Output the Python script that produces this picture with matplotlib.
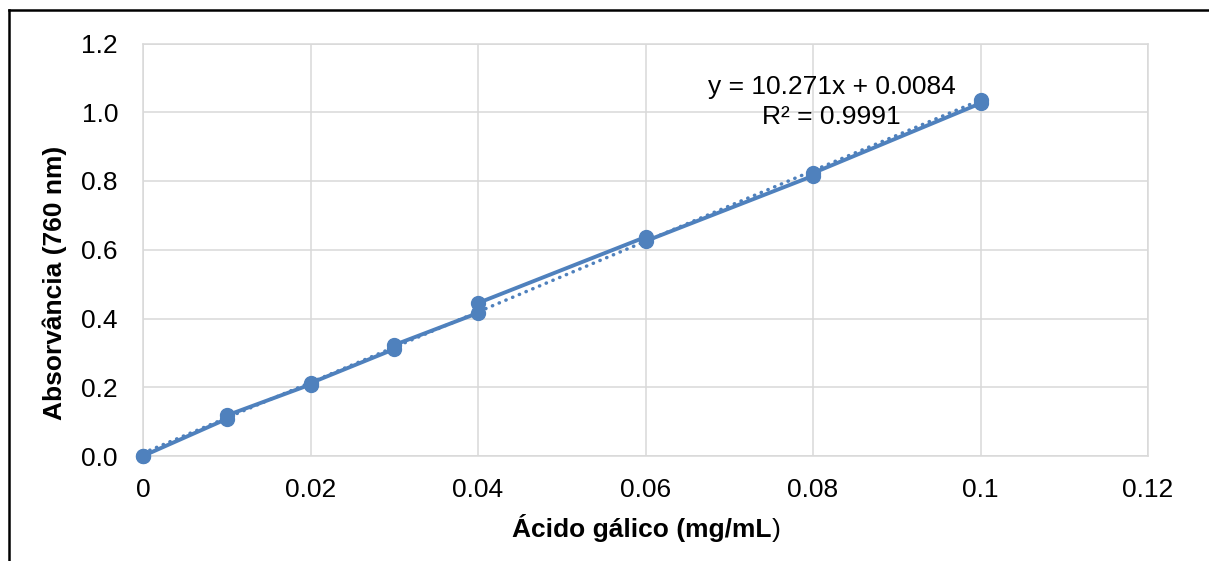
import numpy as np
import matplotlib
matplotlib.use('Agg')
import matplotlib.pyplot as plt
from matplotlib.lines import Line2D

plt.rcParams['font.family'] = ['Liberation Sans', 'DejaVu Sans']

# ── Data (duplicate readings per concentration) ──────────────────────────────
conc = [0.0, 0.0, 0.01, 0.01, 0.02, 0.02, 0.03, 0.03,
        0.04, 0.04, 0.06, 0.06, 0.08, 0.08, 0.1, 0.1]
absorb = [0.0, 0.0, 0.108, 0.118, 0.208, 0.212, 0.311, 0.323,
          0.416, 0.445, 0.637, 0.625, 0.815, 0.823, 1.026, 1.036]

slope, intercept = 10.271, 0.0084
r2 = 0.9991

x_ticks = [0, 0.02, 0.04, 0.06, 0.08, 0.1, 0.12]
x_ticklabels = ["0", "0.02", "0.04", "0.06", "0.08", "0.1", "0.12"]
y_ticks = [0.0, 0.2, 0.4, 0.6, 0.8, 1.0, 1.2]
y_ticklabels = ["0.0", "0.2", "0.4", "0.6", "0.8", "1.0", "1.2"]

BLUE = '#4F81BD'
GRID = '#D9D9D9'
FS = 19

W, H = 1209, 561
fig = plt.figure(figsize=(W / 100, H / 100), dpi=100)
ax = fig.add_axes([143 / W, 1 - 456 / H, (1148 - 143) / W, (456 - 43.5) / H])

# trendline (dotted)
xt = np.array([0.0, 0.1])
ax.plot(xt, slope * xt + intercept, linestyle=(0, (0.1, 2.0)), color=BLUE,
        linewidth=2.5, dash_capstyle='round', zorder=3)
# data with connecting line
ax.plot(conc, absorb, color=BLUE, linewidth=2.8, marker='o', markersize=10,
        zorder=4, clip_on=False)

ax.set_xlim(0, 0.12)
ax.set_ylim(0, 1.2)
ax.set_xticks(x_ticks)
ax.set_xticklabels(x_ticklabels)
ax.set_yticks(y_ticks)
ax.set_yticklabels(y_ticklabels)
ax.tick_params(length=0, labelsize=FS)
ax.tick_params(axis='y', pad=18)
ax.tick_params(axis='x', pad=16)
ax.grid(True, color=GRID, linewidth=1.1)
ax.set_axisbelow(True)
for s in ax.spines.values():
    s.set_color(GRID)
    s.set_linewidth(1.1)

ax.text(0.0822, 1.074, f"y = {slope}x + {intercept}", ha='center', va='center', fontsize=FS)
ax.text(0.0822, 0.987, f"R² = {r2}", ha='center', va='center', fontsize=FS)

# axis labels (closing parenthesis is not bold in the original)
fig.text(772 / W, 1 - 537 / H, "Ácido gálico (mg/mL", ha='right', va='baseline',
         fontsize=FS, fontweight='bold')
fig.text(772 / W, 1 - 537 / H, ")", ha='left', va='baseline', fontsize=FS)
fig.text(55 / W, 1 - 283 / H, "Absorvância (760 nm)", rotation=90, ha='center',
         va='center', fontsize=FS, fontweight='bold')

# outer frame (left and top edges only)
fig.add_artist(Line2D([9 / W, 9 / W], [0, 1 - 10 / H], color='black', linewidth=1.8))
fig.add_artist(Line2D([9 / W, 1], [1 - 10 / H, 1 - 10 / H], color='black', linewidth=1.8))

fig.savefig("out.png", dpi=100)
